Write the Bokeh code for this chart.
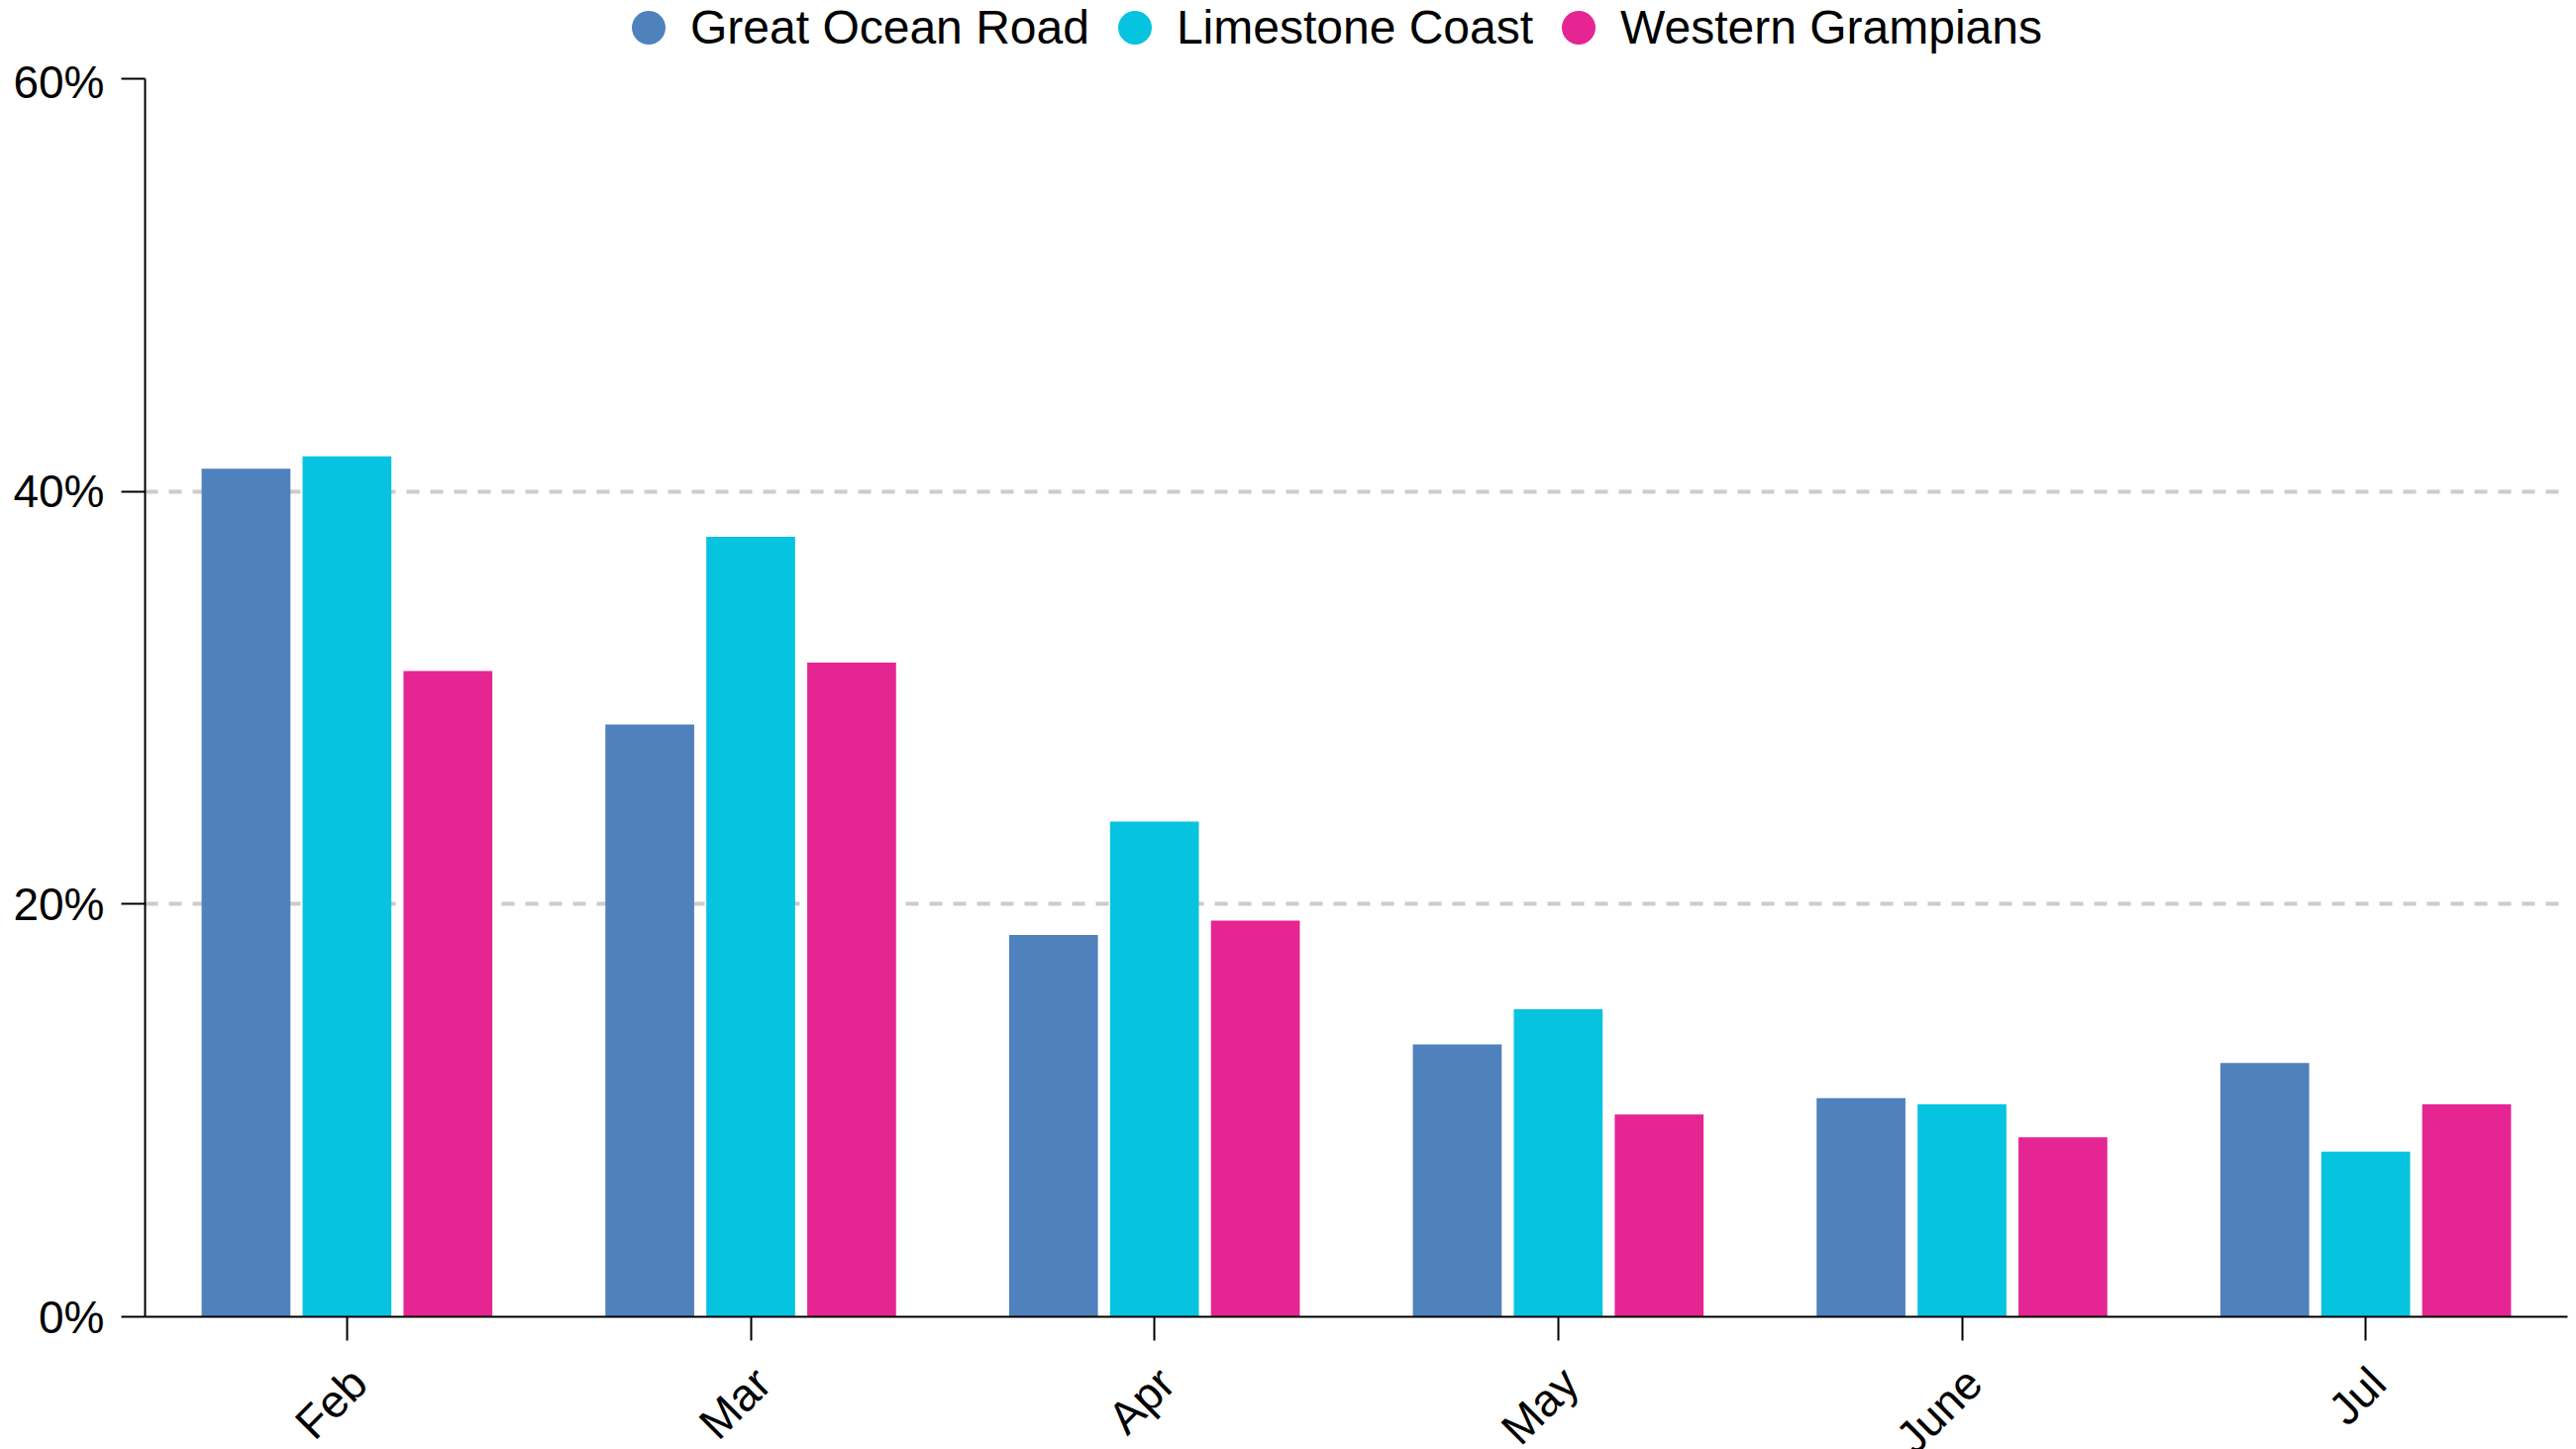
import math
from bokeh.plotting import figure
from bokeh.layouts import column
from bokeh.models import (FactorRange, Range1d, FixedTicker, PrintfTickFormatter,
                          Legend, LegendItem, ColumnDataSource, LabelSet,
                          CustomLabelingPolicy)
from bokeh.transform import dodge
from bokeh.core.properties import value
from bokeh.embed import file_html
from bokeh.resources import INLINE

# ---- data ----
months = ["Feb", "Mar", "Apr", "May", "June", "Jul"]
series_names = ["Great Ocean Road", "Limestone Coast", "Western Grampians"]
great_ocean_road = [41.1, 28.7, 18.5, 13.2, 10.6, 12.3]
limestone_coast = [41.7, 37.8, 24.0, 14.9, 10.3, 8.0]
western_grampians = [31.3, 31.7, 19.2, 9.8, 8.7, 10.3]
y_ticks = [0, 20, 40, 60]

colors = ["#4f81bd", "#06c3df", "#e52592"]
FONT = "Liberation Sans"
W = 2601

source = ColumnDataSource(dict(
    month=months,
    gor=great_ocean_road,
    lc=limestone_coast,
    wg=western_grampians,
))

x_range = FactorRange(factors=months, range_padding=0)

# ---------------- legend strip ----------------
leg = figure(width=W, height=56, x_range=FactorRange(factors=series_names), y_range=Range1d(0, 1),
             output_backend="svg", toolbar_location=None,
             x_axis_location=None, y_axis_location=None,
             min_border_left=0, min_border_right=0, min_border_top=0, min_border_bottom=0)
leg.outline_line_color = None
leg.xgrid.visible = False
leg.ygrid.visible = False
items = []
for name, color in zip(series_names, colors):
    # zero-size proxy marker: only its legend swatch is visible
    r = leg.scatter(x=[name], y=[0.5], marker="circle", size=0, fill_color=color, line_color=None)
    items.append(LegendItem(label=name, renderers=[r]))
legend = Legend(items=items, orientation="horizontal", location=(466, -14),
                glyph_width=85, glyph_height=85, label_standoff=0, spacing=3,
                padding=0, margin=0, border_line_color=None, background_fill_alpha=0,
                label_text_font=FONT, label_text_font_size="48px",
                label_text_color="black")
leg.add_layout(legend, "center")

# ---------------- main chart ----------------
p = figure(
    x_range=x_range,
    y_range=Range1d(0, 60),
    width=W, height=1301,
    output_backend="svg", toolbar_location=None,
    min_border_left=146, min_border_right=9,
    min_border_top=23, min_border_bottom=26,
)
p.outline_line_color = None
p.background_fill_color = "white"
p.border_fill_color = "white"

for field, off, color in zip(["gor", "lc", "wg"], [-0.25, 0.0, 0.25], colors):
    p.vbar(x=dodge("month", off, range=p.x_range), top=field, width=0.22,
           source=source, fill_color=color, line_color=None)

for ax in (p.xaxis, p.yaxis):
    ax.axis_line_color = "black"
    ax.axis_line_width = 2
    ax.major_tick_line_color = "black"
    ax.major_tick_line_width = 2
    ax.major_tick_out = 24
    ax.major_tick_in = 0
    ax.minor_tick_out = 0
    ax.minor_tick_in = 0

p.yaxis.ticker = FixedTicker(ticks=y_ticks)
p.yaxis.formatter = PrintfTickFormatter(format="%d%%")
p.yaxis.major_label_text_font = FONT
p.yaxis.major_label_text_font_size = "46px"
p.yaxis.major_label_text_color = "black"
p.yaxis.major_label_standoff = 17

# month names are drawn rotated in the strip below; the axis keeps only its ticks
p.xaxis.major_label_text_font_size = "1px"
p.xaxis.major_label_standoff = 0
p.xaxis.major_label_policy = CustomLabelingPolicy(code="""
    for (const i of Array.from(indices)) { indices.unset(i) }
    return indices
""")

p.xgrid.visible = False
p.ygrid.grid_line_color = "#cccccc"
p.ygrid.grid_line_width = 4
p.ygrid.grid_line_dash = "13 11"

# ---------------- month label strip ----------------
lab = figure(width=W, height=1463 - 56 - 1301, x_range=x_range, y_range=Range1d(0, 1),
             output_backend="svg", toolbar_location=None,
             x_axis_location=None, y_axis_location=None,
             min_border_left=146, min_border_right=9, min_border_top=0, min_border_bottom=0)
lab.outline_line_color = None
lab.xgrid.visible = False
lab.ygrid.visible = False
labels = LabelSet(x="month", y=1, text="month", source=source,
                  angle=math.pi / 4, text_align="right", text_baseline="middle",
                  x_offset=12, y_offset=-31,
                  text_font=value(FONT), text_font_size="46px", text_color="black")
lab.add_layout(labels)

layout = column(leg, p, lab, spacing=0)
open("out.html", "w").write(file_html(layout, INLINE))
